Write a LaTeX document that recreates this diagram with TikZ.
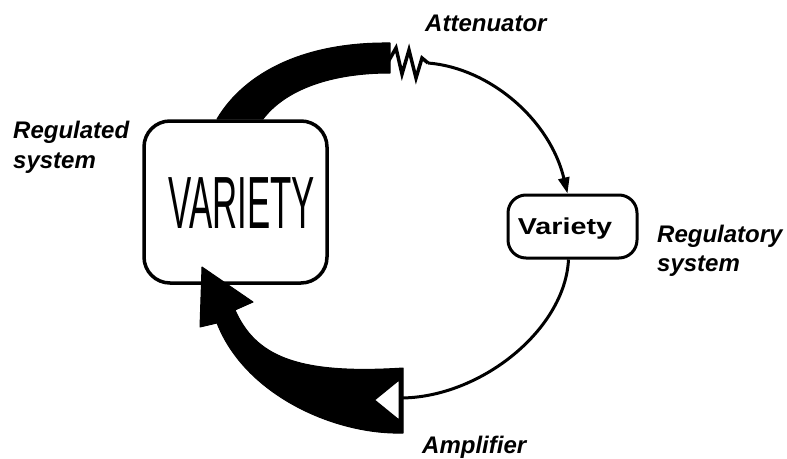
\documentclass[tikz,border=0pt]{standalone}
\usepackage{fontspec}
\setmainfont{Liberation Sans}
\usetikzlibrary{arrows.meta}
\begin{document}
\begin{tikzpicture}[x=1pt,y=-1pt,
  lab/.style={font=\fontsize{24}{30}\selectfont\bfseries\itshape, anchor=base west, inner sep=0pt},
  box/.style={draw, line width=3.5pt, rounded corners=26pt},
  thinline/.style={line width=3pt},
  band/.style={fill=black, draw=black, line width=1pt, line join=round}]
\fill[white] (0,0) rectangle (787,458);
\useasboundingbox (0,0) rectangle (787,458);
% boxes
\node[box, minimum width=183pt, minimum height=162pt] (big) at (235.5,202) {};
\node[inner sep=0pt, font=\fontsize{74}{74}\selectfont] (bigt) at (242,203) {\scalebox{0.47}[1]{VARIETY}};
\node[box, line width=3pt, rounded corners=18pt, minimum width=129pt, minimum height=63pt] (small) at (572.5,226.5) {};
\node[inner sep=0pt, anchor=base, font=\fontsize{23}{23}\selectfont\bfseries] (smallt) at (565,234) {\scalebox{1.25}[1]{Variety}};
% labels
\node[lab] (l1) at (13,138) {Regulated};
\node[lab] (l2) at (13,168) {system};
\node[lab] (r1) at (657,242) {Regulatory};
\node[lab] (r2) at (657,271) {system};
\node[lab] (att) at (425,31) {Attenuator};
\node[lab] (amp) at (422,453) {Amplifier};
% upper thick band + attenuator
\fill[band] (217,119) .. controls (245,72) and (305,42) .. (390,43) -- (390,73) .. controls (330,73) and (285,90) .. (263,119) -- cycle;
\draw[line width=3.5pt, line join=miter] (388,62) -- (396,48) -- (402,74) -- (409,50) -- (416,78) -- (422,58) -- (428,63);
\coordinate (attend) at (428,63);
\draw[thinline, -{Triangle[length=16pt,width=11pt]}] (attend) .. controls (490,68) and (550,120) .. ([xshift=-5pt]small.north);
% lower thick band + amplifier
\fill[band] (202,267) -- (253,302) -- (235,310) .. controls (255,355) and (295,375) .. (403,368) -- (403,433) .. controls (335,435) and (245,395) .. (217,323) -- (200,327) -- cycle;
\draw[line width=3pt, fill=white, line join=miter] (373,400) -- (400,378) -- (400,422) -- cycle;
\coordinate (ampin) at (400,398);
\draw[thinline] ([xshift=-4pt]small.south) .. controls (565,330) and (480,398) .. (ampin);
\end{tikzpicture}
\end{document}
